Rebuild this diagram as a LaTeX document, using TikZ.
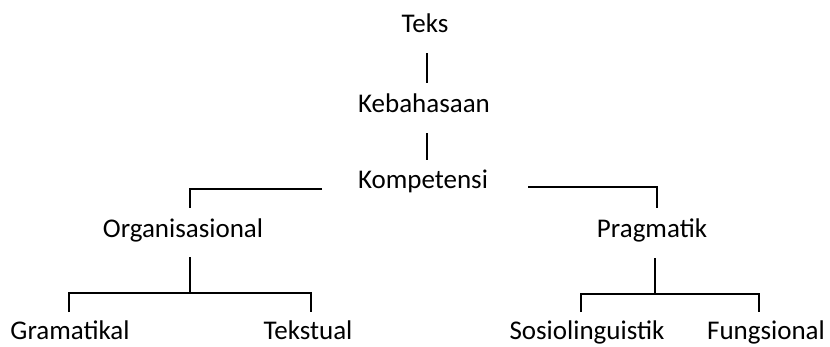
\documentclass[tikz,border=0pt]{standalone}
\usepackage{fontspec}
\setmainfont{Carlito}
\begin{document}
\begin{tikzpicture}[x=1pt,y=-1pt,
  term/.style={anchor=base,inner sep=0pt,font=\fontsize{27}{32}\selectfont},
  link/.style={draw=black,line width=1.2pt}]
\useasboundingbox (0,0) rectangle (830,346);

% terms of the hierarchy
\node[term] (teks) at (425,32) {Teks};
\node[term] (keb)  at (424,112) {Kebahasaan};
\node[term] (komp) at (423,188) {Kompetensi};
\node[term] (org)  at (183,237) {Organisasional};
\node[term] (prag) at (652,237) {Pragmatik};
\node[term] (gram) at (70,339) {Gramatikal};
\node[term] (teksl) at (308,339) {Tekstual};
\node[term] (sosio) at (587,339) {Sosiolinguistik};
\node[term] (fung) at (766,339) {Fungsional};

% connector end points
\coordinate (teksB) at (427,53);
\coordinate (kebT)  at (427,83);
\coordinate (kebB)  at (427,133);
\coordinate (kompT) at (427,160);
\coordinate (kompL) at (322,189);
\coordinate (kompR) at (528,187);
\coordinate (orgT)  at (190,208);
\coordinate (pragT) at (657,208);
\coordinate (orgB)  at (190,257);
\coordinate (orgJ)  at (190,293);
\coordinate (gramT) at (69,312);
\coordinate (teksT) at (311,312);
\coordinate (pragB) at (655,258);
\coordinate (pragJ) at (655,294);
\coordinate (sosT)  at (581,312);
\coordinate (funT)  at (759,312);

% vertical chain
\draw[link] (teksB) -- (kebT);
\draw[link] (kebB) -- (kompT);

% Kompetensi branches
\draw[link] (kompL) -| (orgT);
\draw[link] (kompR) -| (pragT);

% Organisasional branches
\draw[link] (orgB) -- (orgJ);
\draw[link] (gramT) |- (orgJ) -| (teksT);

% Pragmatik branches
\draw[link] (pragB) -- (pragJ);
\draw[link] (sosT) |- (pragJ) -| (funT);
\end{tikzpicture}
\end{document}
